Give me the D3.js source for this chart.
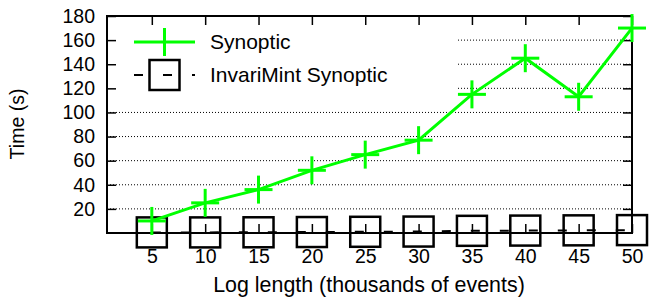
<!DOCTYPE html>
<html>
<head>
<meta charset="utf-8">
<script src="https://cdn.jsdelivr.net/npm/d3@7"></script>
<style>
  body { margin: 0; background: #fff; }
  text { font-family: "Liberation Sans", Arial, sans-serif; fill: #000; }
</style>
</head>
<body>
<div id="chart"></div>
<script>
// data
const logLengths = [5, 10, 15, 20, 25, 30, 35, 40, 45, 50];
const synopticTimes = [10, 25, 36, 52, 65, 77, 115, 145, 113, 170];
const invariMintTimes = [0.5, 0.5, 0.6, 0.8, 1, 1.2, 1.8, 2, 2.2, 2.4];
const yTicks = [20, 40, 60, 80, 100, 120, 140, 160, 180];
const gridTicks = [20, 40, 60, 80, 100, 120, 140, 160];

const width = 649;
const height = 299;
const margin = { top: 16, right: 17, bottom: 66, left: 107 };
const plotW = width - margin.left - margin.right;
const plotH = height - margin.top - margin.bottom;

const svg = d3
  .select("#chart")
  .append("svg")
  .attr("width", width)
  .attr("height", height);

const xScale = d3.scaleLinear().domain([0.8, 50]).range([0, plotW]);
const yScale = d3.scaleLinear().domain([0, 180]).range([plotH, 0]);

const g = svg
  .append("g")
  .attr("transform", `translate(${margin.left},${margin.top})`);

// dotted grid
g.selectAll(".grid")
  .data(gridTicks)
  .enter()
  .append("line")
  .attr("class", "grid")
  .attr("x1", 0)
  .attr("x2", plotW)
  .attr("y1", (d) => yScale(d))
  .attr("y2", (d) => yScale(d))
  .attr("stroke", "#000")
  .attr("stroke-width", 1)
  .attr("stroke-dasharray", "1,2");

// legend background hides the grid behind it
g.append("rect")
  .attr("x", 1)
  .attr("y", 1)
  .attr("width", 348)
  .attr("height", 80)
  .attr("fill", "#fff");

// axes, ticks pointing inward
const fontSize = 19.5;
g.append("g")
  .call(d3.axisLeft(yScale).tickValues(yTicks).tickSize(-9).tickPadding(12));
g.append("g")
  .attr("transform", `translate(0,${plotH})`)
  .call(d3.axisBottom(xScale).tickValues(logLengths).tickSize(-9).tickPadding(16));
g.append("g")
  .call(d3.axisTop(xScale).tickValues(logLengths).tickSize(-9).tickFormat(""));
g.append("g")
  .attr("transform", `translate(${plotW},0)`)
  .call(d3.axisRight(yScale).tickValues(yTicks).tickSize(-9).tickFormat(""));

g.selectAll(".domain").remove();
g.selectAll(".tick line").attr("stroke", "#000").attr("stroke-width", 1.5);
g.selectAll(".tick text")
  .style("font-family", '"Liberation Sans", Arial, sans-serif')
  .style("font-size", fontSize + "px");

// border
g.append("rect")
  .attr("width", plotW)
  .attr("height", plotH)
  .attr("fill", "none")
  .attr("stroke", "#000")
  .attr("stroke-width", 2);

// InvariMint Synoptic: dashed black line with open squares
const boxSize = 30;
g.append("path")
  .datum(logLengths.map((d, i) => [d, invariMintTimes[i]]))
  .attr("fill", "none")
  .attr("stroke", "#000")
  .attr("stroke-width", 2)
  .attr("stroke-dasharray", "9,20")
  .attr(
    "d",
    d3
      .line()
      .x((d) => xScale(d[0]))
      .y((d) => yScale(d[1]))
  );
g.selectAll(".box")
  .data(logLengths)
  .enter()
  .append("rect")
  .attr("class", "box")
  .attr("x", (d) => xScale(d) - boxSize / 2)
  .attr("y", (d, i) => yScale(invariMintTimes[i]) - boxSize / 2)
  .attr("width", boxSize)
  .attr("height", boxSize)
  .attr("fill", "none")
  .attr("stroke", "#000")
  .attr("stroke-width", 2.5);

// Synoptic: green line with plus markers
const green = "#00ff00";
const plus = 14;
g.append("path")
  .datum(logLengths.map((d, i) => [d, synopticTimes[i]]))
  .attr("fill", "none")
  .attr("stroke", green)
  .attr("stroke-width", 3)
  .attr(
    "d",
    d3
      .line()
      .x((d) => xScale(d[0]))
      .y((d) => yScale(d[1]))
  );
const plusG = g
  .selectAll(".plus")
  .data(logLengths)
  .enter()
  .append("g")
  .attr("class", "plus")
  .attr("transform", (d, i) => `translate(${xScale(d)},${yScale(synopticTimes[i])})`);
plusG.append("line").attr("x1", -plus).attr("x2", plus);
plusG.append("line").attr("y1", -plus).attr("y2", plus);
plusG.selectAll("line").attr("stroke", green).attr("stroke-width", 3);

// legend
const legend = g.append("g").attr("transform", "translate(27,0)");
legend
  .append("line")
  .attr("x1", 0)
  .attr("x2", 61)
  .attr("y1", 26)
  .attr("y2", 26)
  .attr("stroke", green)
  .attr("stroke-width", 3);
legend
  .append("line")
  .attr("x1", 30.5)
  .attr("x2", 30.5)
  .attr("y1", 26 - plus)
  .attr("y2", 26 + plus)
  .attr("stroke", green)
  .attr("stroke-width", 3);
legend
  .append("line")
  .attr("x1", 0)
  .attr("x2", 61)
  .attr("y1", 59)
  .attr("y2", 59)
  .attr("stroke", "#000")
  .attr("stroke-width", 2)
  .attr("stroke-dasharray", "9,20");
legend
  .append("rect")
  .attr("x", 30.5 - boxSize / 2)
  .attr("y", 59 - boxSize / 2)
  .attr("width", boxSize)
  .attr("height", boxSize)
  .attr("fill", "none")
  .attr("stroke", "#000")
  .attr("stroke-width", 2.5);
legend
  .selectAll(".ltext")
  .data(["Synoptic", "InvariMint Synoptic"])
  .enter()
  .append("text")
  .attr("class", "ltext")
  .attr("x", 76)
  .attr("y", (d, i) => 26 + i * 33)
  .attr("dy", "0.35em")
  .style("font-size", "21px")
  .text((d) => d);

// axis titles
svg
  .append("text")
  .attr("transform", `translate(24,124) rotate(-90)`)
  .attr("text-anchor", "middle")
  .style("font-size", "19.5px")
  .text("Time (s)");
svg
  .append("text")
  .attr("x", 369)
  .attr("y", 292)
  .attr("text-anchor", "middle")
  .style("font-size", "21.4px")
  .text("Log length (thousands of events)");
</script>
</body>
</html>
